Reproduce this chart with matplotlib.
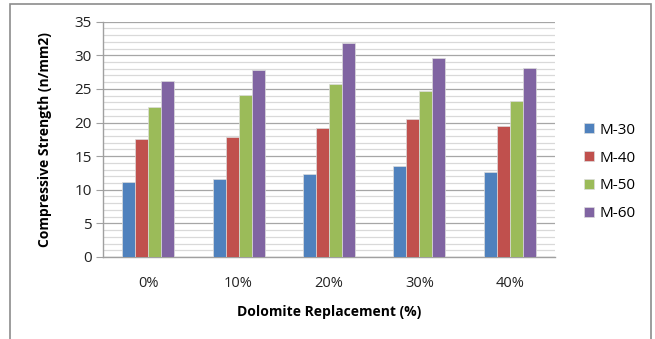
import matplotlib
matplotlib.use("Agg")
import matplotlib.pyplot as plt
from matplotlib.patches import Rectangle
import numpy as np

categories = ["0%", "10%", "20%", "30%", "40%"]
series_names = ["M-30", "M-40", "M-50", "M-60"]
m30 = [11.2, 11.6, 12.4, 13.6, 12.7]
m40 = [17.55, 17.9, 19.2, 20.5, 19.55]
m50 = [22.35, 24.1, 25.8, 24.7, 23.2]
m60 = [26.2, 27.8, 31.8, 29.6, 28.1]
series = [m30, m40, m50, m60]
colors = ["#4F81BD", "#C0504D", "#9BBB59", "#8064A2"]

plt.rcParams['font.family'] = ['Open Sans', 'DejaVu Sans']

W, H = 655, 339
fig = plt.figure(figsize=(W/100, H/100), dpi=100)
ax = fig.add_axes([103/W, 1-257/H, (555-103)/W, (257-21.7)/H])

# outer border
fig.patches.append(Rectangle((10/W, -0.02), (651-10)/W, 1.02-4/H, transform=fig.transFigure,
                             fill=False, edgecolor="#8c8c8c", linewidth=1.2))

x = np.arange(len(categories))
bw = 0.144
for i, (vals, c, name) in enumerate(zip(series, colors, series_names)):
    ax.bar(x + (i-1.5)*bw, vals, width=bw, color=c, edgecolor="#dcdcdc", linewidth=0.5,
           label=name, zorder=3)

ax.set_xlim(-0.5, 4.5)
ax.set_ylim(0, 35)
ax.set_yticks(range(0, 36, 5))
ax.set_yticks(range(0, 36, 1), minor=True)
ax.grid(True, axis='y', which='major', color="#a6a6a6", linewidth=0.9, zorder=0)
ax.grid(True, axis='y', which='minor', color="#d9d9d9", linewidth=0.9, zorder=0)
ax.set_xticks(x)
ax.set_xticklabels(categories)
ax.tick_params(axis='x', length=0, pad=14, labelsize=10.5, colors="#222222")
ax.tick_params(axis='y', which='major', length=5, color="#a0a0a0", pad=3, labelsize=11, colors="#222222")
ax.tick_params(axis='y', which='minor', length=0)
for s in ['top', 'right']:
    ax.spines[s].set_visible(False)
for s in ['left', 'bottom']:
    ax.spines[s].set_color("#a0a0a0")
    ax.spines[s].set_linewidth(1.0)

ax.set_xlabel("Dolomite Replacement (%)", fontsize=10, fontweight='bold', labelpad=10)
ax.set_ylabel("Compressive Strength (n/mm2)", fontsize=10, fontweight='bold', labelpad=16)

leg = ax.legend(loc='center left', bbox_to_anchor=(570/W, 1-172/H), bbox_transform=fig.transFigure,
                frameon=False, fontsize=11, handlelength=0.65, handleheight=0.65,
                handletextpad=0.4, labelspacing=0.85)

fig.savefig("out.png", dpi=100)
